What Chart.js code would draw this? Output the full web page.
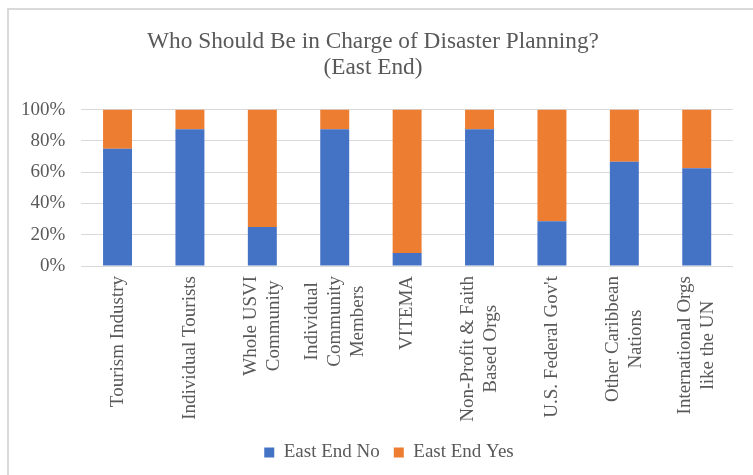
<!DOCTYPE html>
<html>
<head>
<meta charset="utf-8">
<script src="https://cdn.jsdelivr.net/npm/chart.js@4.4.1/dist/chart.umd.min.js"></script>
<style>
  body { margin: 0; background: #fff; }
  #wrap { position: relative; width: 753px; height: 475px; }
  #frame {
    position: absolute; left: 7px; top: 8px; right: -4px; bottom: -4px;
    border: 2px solid #d9d9d9; pointer-events: none;
  }
</style>
</head>
<body>
<div id="wrap">
  <canvas id="chart" width="753" height="475"></canvas>
  <div id="frame"></div>
</div>
<script>
const categories = [
    ['Tourism Industry'],
    ['Individual Tourists'],
    ['Whole USVI', 'Community'],
    ['Individual', 'Community', 'Members'],
    ['VITEMA'],
    ['Non-Profit & Faith', 'Based Orgs'],
    ["U.S. Federal Gov't"],
    ['Other Caribbean', 'Nations'],
    ['International Orgs', 'like the UN']
];
const eastEndNo = [75, 87.5, 25, 87.5, 8.3, 87.5, 28.6, 66.7, 62.5];
const eastEndYes = [25, 12.5, 75, 12.5, 91.7, 12.5, 71.4, 33.3, 37.5];
const yTicks = [0, 20, 40, 60, 80, 100];

const serif = 'Liberation Serif, Times New Roman, serif';
const textGray = '#595959';
const gridGray = '#d9d9d9';

// rotated multi-line labels: center the lines on the tick and on each other
const centerLabels = {
    id: 'centerLabels',
    beforeDraw(chart) {
        const scale = chart.scales.x;
        const ctx = chart.ctx;
        scale.getLabelItems().forEach(function (item) {
            if (item._centered) return;
            item._centered = true;
            const lines = Array.isArray(item.label) ? item.label : [item.label];
            ctx.save();
            ctx.font = item.font.string;
            let maxW = 0;
            lines.forEach(function (l) { maxW = Math.max(maxW, ctx.measureText(l).width); });
            ctx.restore();
            item.options.translation[0] -= (lines.length - 1) * item.font.lineHeight / 2;
            item.options.translation[1] += maxW / 2;
            item.options.textAlign = 'center';
        });
    }
};

// nudge the legend a bit to the right
const legendShift = {
    id: 'legendShift',
    afterLayout(chart) {
        chart.legend.left += 16;
        chart.legend.right += 16;
    }
};

new Chart(document.getElementById('chart'), {
    type: 'bar',
    data: {
        labels: categories,
        datasets: [{
            label: 'East End No',
            data: eastEndNo,
            backgroundColor: '#4472c4'
        }, {
            label: 'East End Yes',
            data: eastEndYes,
            backgroundColor: '#ed7d31'
        }]
    },
    plugins: [centerLabels, legendShift],
    options: {
        responsive: false,
        animation: false,
        layout: {
            padding: { left: 5, right: 12, top: 0, bottom: 3 }
        },
        datasets: {
            bar: { categoryPercentage: 1, barPercentage: 0.4 }
        },
        plugins: {
            title: {
                display: true,
                text: ['Who Should Be in Charge of Disaster Planning?', '(East End)'],
                color: textGray,
                font: { family: serif, size: 23.3, weight: 'normal', lineHeight: 1.15 },
                padding: { top: 28, bottom: 28 }
            },
            legend: {
                position: 'bottom',
                labels: {
                    color: textGray,
                    font: { family: serif, size: 19 },
                    boxWidth: 10,
                    boxHeight: 10,
                    padding: 14
                }
            },
            tooltip: { enabled: false }
        },
        scales: {
            x: {
                stacked: true,
                grid: { display: false, drawTicks: false },
                border: { color: gridGray },
                ticks: {
                    color: textGray,
                    font: { family: serif, size: 19 },
                    minRotation: 90,
                    maxRotation: 90,
                    autoSkip: false,
                    padding: 10
                },
                afterFit: function (scale) { scale.height = 163; }
            },
            y: {
                stacked: true,
                min: 0,
                max: 100,
                afterBuildTicks: function (scale) {
                    scale.ticks = yTicks.map(function (v) { return { value: v }; });
                },
                grid: { color: gridGray, drawTicks: false },
                border: { display: false },
                ticks: {
                    color: textGray,
                    font: { family: serif, size: 19 },
                    padding: 16,
                    callback: function (v) { return v + '%'; }
                }
            }
        }
    }
});
</script>
</body>
</html>
